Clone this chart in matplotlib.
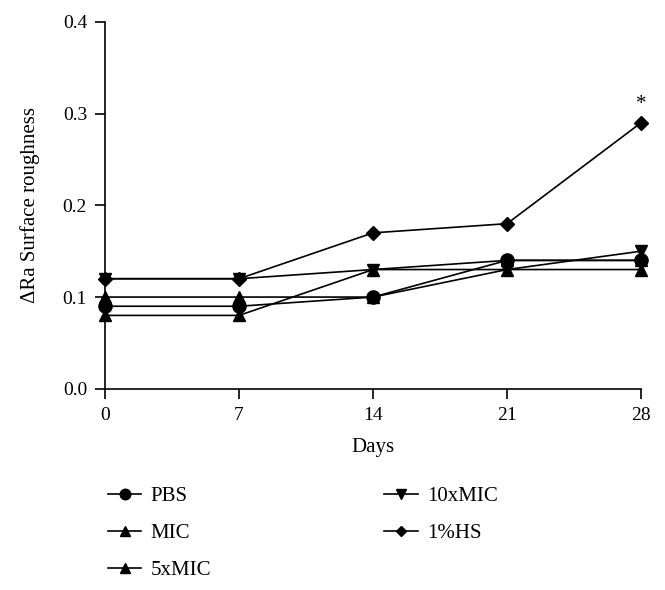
import matplotlib
matplotlib.use("Agg")
import matplotlib.pyplot as plt

days = [0, 7, 14, 21, 28]
pbs = [0.09, 0.09, 0.10, 0.14, 0.14]
mic = [0.10, 0.10, 0.10, 0.13, 0.13]
mic5 = [0.08, 0.08, 0.13, 0.14, 0.14]
mic10 = [0.12, 0.12, 0.13, 0.13, 0.15]
hs = [0.12, 0.12, 0.17, 0.18, 0.29]

labels = ["PBS", "MIC", "5xMIC", "10xMIC", "1%HS"]
markers = ["o", "^", "^", "v", "D"]
sizes = [9.5, 9, 9, 9, 7]

plt.rcParams["font.family"] = ["Liberation Serif", "DejaVu Serif"]

fig = plt.figure(figsize=(6.65, 5.9), dpi=100)
ax = fig.add_axes([0.158, 0.341, 0.806, 0.622])

series = [pbs, mic, mic5, mic10, hs]
for vals, lab, mk, ms in zip(series, labels, markers, sizes):
    ax.plot(days, vals, color="black", lw=1.2, marker=mk, ms=ms,
            markerfacecolor="black", markeredgecolor="black", label=lab,
            clip_on=False, zorder=3)

# significance mark above the last 1%HS point
ax.annotate("*", (days[-1], hs[-1]), xytext=(0, 6), textcoords="offset points",
            ha="center", va="bottom", fontsize=15)

ax.set_xlim(0, 28)
ax.set_ylim(0, 0.4)
ax.set_xticks(days)
ax.set_yticks([0.0, 0.1, 0.2, 0.3, 0.4])
ax.set_yticklabels(["0.0", "0.1", "0.2", "0.3", "0.4"])
ax.spines["top"].set_visible(False)
ax.spines["right"].set_visible(False)
for s in ("left", "bottom"):
    ax.spines[s].set_linewidth(1.2)
ax.tick_params(direction="out", length=7, width=1.2, labelsize=14, pad=6)
ax.set_xlabel("Days", fontsize=15, labelpad=10)
ax.set_ylabel("\u0394Ra Surface roughness", fontsize=15, labelpad=16)

fig.legend(loc="upper left", bbox_to_anchor=(0.15, 0.19), ncol=2,
           frameon=False, fontsize=15, markerscale=0.8, handlelength=1.6,
           handletextpad=0.45, columnspacing=8.3, labelspacing=0.85,
           borderaxespad=0)

fig.savefig("out.png", dpi=100)
